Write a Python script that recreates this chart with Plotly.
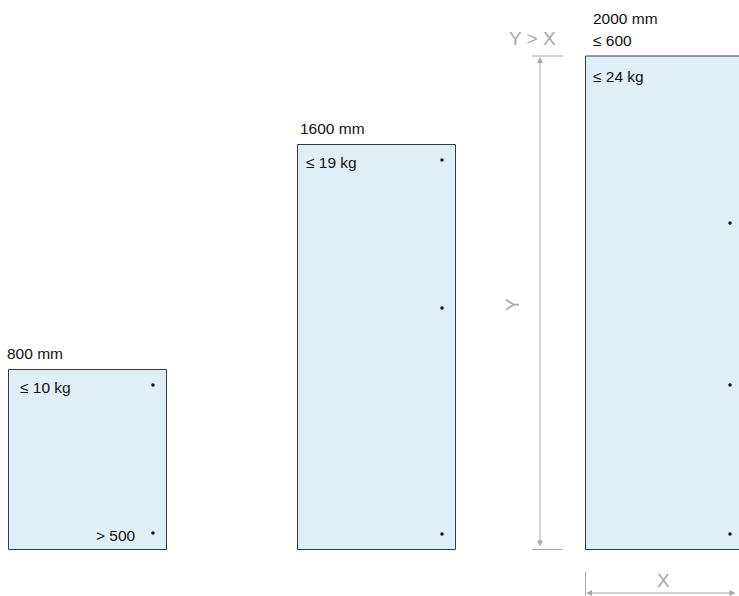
import plotly.graph_objects as go

# ---- data ----
lengths = ["800 mm", "1600 mm", "2000 mm"]
weights = ["≤ 10 kg", "≤ 19 kg", "≤ 24 kg"]
extra_notes = ["> 500", "", "≤ 600"]
fix_counts = [2, 3, 3]

# ---- geometry (display units = pixels of the drawing) ----
panel_left = [8, 297, 585]
panel_width = 158.5
panel_top = [369.5, 144.5, 56]
panel_bottom = 549.5
dot_offset = 13.5
dot_rows = [[385, 533], [160, 308, 534], [223, 385, 534]]
label_dx = [-3, 1, 6]
weight_dx = [10, 7, 6]

W, H = 739, 596
fig = go.Figure()
FONT = "Liberation Sans, Arial, sans-serif"
GRAY = "#a8a8a8"
FS = 15.5
FSG = 19

shapes = []
annotations = []
for i in range(3):
    x0 = panel_left[i]
    x1 = x0 + panel_width
    y0 = panel_top[i]
    shapes.append(dict(type="rect", xref="x", yref="y", x0=x0 + 0.5, x1=x1, y0=y0, y1=panel_bottom,
                       fillcolor="#dfeff7", line=dict(color="#3a3a3a", width=1), layer="below"))
    fig.add_trace(go.Scatter(x=[x1 - dot_offset] * len(dot_rows[i]), y=dot_rows[i], mode="markers",
                             marker=dict(size=3.5, color="#111"), hoverinfo="skip", showlegend=False))
    ly = y0 - 16 if i < 2 else 18
    annotations.append(dict(x=x0 + label_dx[i], y=ly, text=lengths[i], xanchor="left",
                            yanchor="middle", showarrow=False, font=dict(size=FS, color="#111", family=FONT)))
    annotations.append(dict(x=x0 + weight_dx[i], y=y0 + 18 if i < 2 else 76,
                            text=weights[i], xanchor="left", yanchor="middle", showarrow=False,
                            font=dict(size=FS, color="#111", family=FONT)))

annotations.append(dict(x=138, y=535, text=extra_notes[0], xanchor="right", yanchor="middle", showarrow=False,
                        font=dict(size=FS, color="#111", family=FONT)))
annotations.append(dict(x=591, y=40, text=extra_notes[2], xanchor="left", yanchor="middle", showarrow=False,
                        font=dict(size=FS, color="#111", family=FONT)))

# dimension Y
shapes.append(dict(type="line", xref="x", yref="y", x0=532, x1=563, y0=56, y1=56, line=dict(color=GRAY, width=1)))
shapes.append(dict(type="line", xref="x", yref="y", x0=532, x1=563, y0=549.5, y1=549.5, line=dict(color=GRAY, width=1)))
annotations.append(dict(x=540, y=57, ax=540, ay=548, xref="x", yref="y", axref="x", ayref="y", text="",
                        showarrow=True, arrowhead=2, arrowside="end+start", arrowsize=1.2, arrowwidth=1,
                        arrowcolor=GRAY))
annotations.append(dict(x=532, y=38, text="Y > X", showarrow=False, xanchor="center", yanchor="middle",
                        font=dict(size=FSG, color=GRAY, family=FONT)))
annotations.append(dict(x=512, y=305, text="Y", textangle=-90, showarrow=False, xanchor="center",
                        yanchor="middle", font=dict(size=FSG, color=GRAY, family=FONT)))

# dimension X
shapes.append(dict(type="line", xref="x", yref="y", x0=585.5, x1=585.5, y0=572, y1=596, line=dict(color=GRAY, width=1)))
annotations.append(dict(x=586, y=593, ax=737, ay=593, xref="x", yref="y", axref="x", ayref="y", text="",
                        showarrow=True, arrowhead=2, arrowside="end+start", arrowsize=1.2, arrowwidth=1,
                        arrowcolor=GRAY))
annotations.append(dict(x=663, y=580, text="X", showarrow=False, xanchor="center", yanchor="middle",
                        font=dict(size=FSG, color=GRAY, family=FONT)))

fig.update_layout(
    width=W, height=H, margin=dict(l=0, r=0, t=0, b=0),
    paper_bgcolor="white", plot_bgcolor="white",
    xaxis=dict(range=[0, W], visible=False, fixedrange=True),
    yaxis=dict(range=[H, 0], visible=False, fixedrange=True),
    shapes=shapes, annotations=annotations, showlegend=False,
)
fig.write_html("out.html", config={"displayModeBar": False, "staticPlot": True},
               post_script="document.body.style.margin='0';document.body.style.overflow='hidden';")
